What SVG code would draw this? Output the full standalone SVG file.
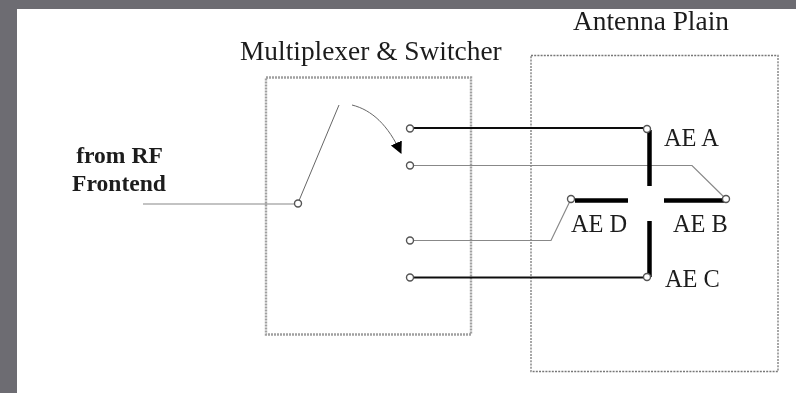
<svg xmlns="http://www.w3.org/2000/svg" width="796" height="393" viewBox="0 0 796 393">
<style>
text{font-family:"Liberation Serif","Times New Roman",serif;fill:#1c1c1c}
.title{font-size:27.4px}
.lab{font-size:24.4px}
.bold{font-size:23.6px;font-weight:bold;text-anchor:middle}
.box{fill:none;stroke:#777;stroke-width:1.3;stroke-dasharray:2 1.2}
.box2{fill:none;stroke:#a0a0a0;stroke-width:2.4;stroke-dasharray:2 1}
.thin{fill:none;stroke:#888;stroke-width:1.2}
.thin2{fill:none;stroke:#666;stroke-width:1}
.med{fill:none;stroke:#111;stroke-width:2}
.thick{fill:none;stroke:#000;stroke-width:4.500}
.pin{fill:#fff;stroke:#555;stroke-width:1.4}
</style>
<defs>
<marker id="ah" markerUnits="userSpaceOnUse" markerWidth="14" markerHeight="14" refX="11" refY="6" orient="auto"><path d="M0 0L12 6L0 12Z" fill="#000"/></marker>
<filter id="soft" x="0" y="0" width="100%" height="100%" filterUnits="objectBoundingBox"><feGaussianBlur stdDeviation="0.45"/></filter>
</defs>
<rect x="0" y="0" width="796" height="393" fill="#fff"/>
<g filter="url(#soft)">
<rect x="17" y="9" width="779" height="384" fill="#fff"/>
<g id="multiplexer"><rect class="box2" x="266" y="77.500" width="205" height="257"/>
<text class="title" x="240" y="59.500">Multiplexer &amp; Switcher</text></g>
<g id="antenna-plain"><rect class="box" x="531" y="55.500" width="247" height="316"/>
<text class="title" x="573" y="30">Antenna Plain</text></g>
<g id="rf-frontend"><text class="bold" x="119.500" y="162.500">from RF</text><text class="bold" x="119" y="191">Frontend</text></g>
<g id="connectors">
<path class="thin" d="M143 204H298"/>
<path class="thin2" d="M298 203L339 105"/>
<path class="thin2" d="M352 105C372 110 388 125 401 153" marker-end="url(#ah)"/>
<path class="med" d="M410 128H647"/>
<path class="thin" d="M410 165.500H692L726 199"/>
<path class="thin" d="M410 240.500H551L571 199"/>
<path class="med" d="M410 277.500H647"/>
<path class="thick" d="M649.500 130V186"/>
<path class="thick" d="M649.500 221V277"/>
<path class="thick" d="M575 200.500H628"/>
<path class="thick" d="M664 200.500H724"/>
</g>
<g id="pins">
<circle class="pin" cx="298" cy="203.500" r="3.500"/>
<circle class="pin" cx="410" cy="128.500" r="3.500"/>
<circle class="pin" cx="410" cy="165.500" r="3.500"/>
<circle class="pin" cx="410" cy="240.500" r="3.500"/>
<circle class="pin" cx="410" cy="277.500" r="3.500"/>
<circle class="pin" cx="647" cy="129" r="3.500"/>
<circle class="pin" cx="647" cy="277" r="3.500"/>
<circle class="pin" cx="571" cy="199" r="3.500"/>
<circle class="pin" cx="726" cy="199" r="3.500"/>
</g>
<g id="ae-a"><text class="lab" x="664" y="146">AE A</text></g>
<g id="ae-b"><text class="lab" x="673" y="232">AE B</text></g>
<g id="ae-c"><text class="lab" x="665" y="287">AE C</text></g>
<g id="ae-d"><text class="lab" x="571" y="232">AE D</text></g>
</g>
<path d="M0 0H796V9H17V393H0Z" fill="#6d6c72"/>
</svg>
